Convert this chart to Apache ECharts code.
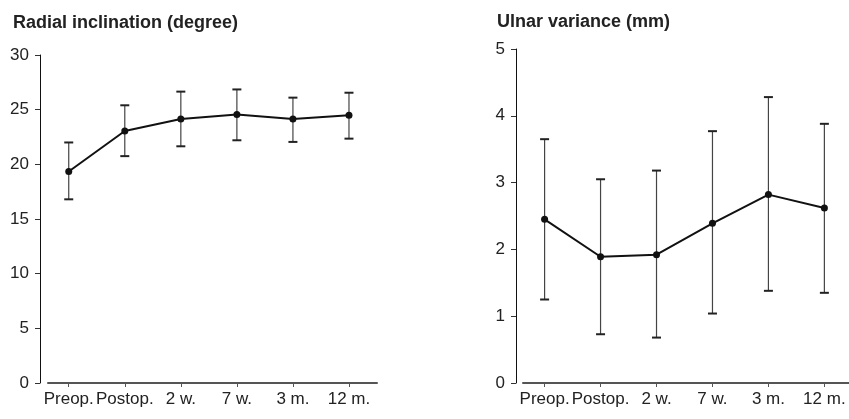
<!DOCTYPE html>
<html>
<head>
<meta charset="utf-8">
<script src="https://cdn.jsdelivr.net/npm/echarts@6/dist/echarts.min.js"></script>
<style>
  html, body { margin: 0; padding: 0; background: #fff; }
  #chart { width: 849px; height: 419px; }
</style>
</head>
<body>
<div id="chart"></div>
<script>
  var categories = ['Preop.', 'Postop.', '2 w.', '7 w.', '3 m.', '12 m.']

  // radial inclination (degree): mean and error bar ends
  var radialMean = [19.35, 23.05, 24.15, 24.55, 24.15, 24.5]
  var radialLow = [16.8, 20.75, 21.65, 22.2, 22.05, 22.35]
  var radialHigh = [22.0, 25.4, 26.65, 26.85, 26.1, 26.55]

  // ulnar variance (mm)
  var ulnarMean = [2.45, 1.89, 1.92, 2.39, 2.82, 2.62]
  var ulnarLow = [1.25, 0.73, 0.68, 1.04, 1.38, 1.35]
  var ulnarHigh = [3.65, 3.05, 3.18, 3.77, 4.28, 3.88]

  var tickValues = [0, 1, 2, 3, 4, 5]
  var fontFamily = '"Liberation Sans", Arial, sans-serif'

  function lineData (vals) {
    return vals.map(function (v, i) { return [i, v] })
  }
  function barData (low, high) {
    return low.map(function (v, i) { return [i, v, high[i]] })
  }

  // error bar: vertical stem plus two caps
  function renderErrorBar (params, api) {
    var x = api.value(0)
    var top = api.coord([x, api.value(2)])
    var bot = api.coord([x, api.value(1)])
    var hw = 4.5
    return {
      type: 'group',
      children: [
        { type: 'line', shape: { x1: top[0], y1: top[1], x2: bot[0], y2: bot[1] }, style: { stroke: '#444', lineWidth: 1.2 } },
        { type: 'line', shape: { x1: top[0] - hw, y1: top[1], x2: top[0] + hw, y2: top[1] }, style: { stroke: '#222', lineWidth: 2 } },
        { type: 'line', shape: { x1: bot[0] - hw, y1: bot[1], x2: bot[0] + hw, y2: bot[1] }, style: { stroke: '#222', lineWidth: 2 } }
      ]
    }
  }

  function xAxisFor (idx, min, max) {
    return {
      type: 'value',
      gridIndex: idx,
      min: min,
      max: max,
      splitLine: { show: false },
      axisLine: { show: true, onZero: false, lineStyle: { color: '#555', width: 2 } },
      axisTick: { show: true, length: 4, customValues: tickValues, lineStyle: { color: '#555', width: 1 } },
      axisLabel: {
        customValues: tickValues,
        margin: 8,
        color: '#222',
        fontSize: 17,
        fontFamily: fontFamily,
        formatter: function (v) { return categories[v] }
      }
    }
  }

  function yAxisFor (idx, max, interval, offset) {
    return {
      type: 'value',
      gridIndex: idx,
      min: 0,
      max: max,
      interval: interval,
      offset: offset,
      splitLine: { show: false },
      axisLine: { show: true, onZero: false, lineStyle: { color: '#111', width: 1 } },
      axisTick: { show: true, length: 5, lineStyle: { color: '#333' } },
      axisLabel: { margin: 11, color: '#222', fontSize: 17, fontFamily: fontFamily }
    }
  }

  var titleStyle = { fontSize: 18, fontWeight: 'bold', color: '#222', fontFamily: fontFamily }

  var option = {
    animation: false,
    title: [
      { text: 'Radial inclination (degree)', left: 8, top: 9, textStyle: titleStyle },
      { text: 'Ulnar variance (mm)', left: 492, top: 8, textStyle: titleStyle }
    ],
    grid: [
      { left: 48, right: 472, top: 55, bottom: 36 },
      { left: 523, right: 0, top: 49, bottom: 36 }
    ],
    xAxis: [
      xAxisFor(0, -0.37, 5.5),
      xAxisFor(1, -0.386, 5.44)
    ],
    yAxis: [
      yAxisFor(0, 30, 5, 8),
      yAxisFor(1, 5, 1, 7)
    ],
    series: [
      {
        type: 'custom',
        xAxisIndex: 0,
        yAxisIndex: 0,
        renderItem: renderErrorBar,
        data: barData(radialLow, radialHigh),
        z: 1
      },
      {
        type: 'line',
        xAxisIndex: 0,
        yAxisIndex: 0,
        data: lineData(radialMean),
        symbol: 'circle',
        symbolSize: 7,
        lineStyle: { color: '#111', width: 2 },
        itemStyle: { color: '#111' },
        z: 2
      },
      {
        type: 'custom',
        xAxisIndex: 1,
        yAxisIndex: 1,
        renderItem: renderErrorBar,
        data: barData(ulnarLow, ulnarHigh),
        z: 1
      },
      {
        type: 'line',
        xAxisIndex: 1,
        yAxisIndex: 1,
        data: lineData(ulnarMean),
        symbol: 'circle',
        symbolSize: 7,
        lineStyle: { color: '#111', width: 2 },
        itemStyle: { color: '#111' },
        z: 2
      }
    ]
  }

  var chart = echarts.init(document.getElementById('chart'))
  chart.setOption(option)
  window.addEventListener('resize', function () {
    chart.resize()
  })
</script>
</body>
</html>
